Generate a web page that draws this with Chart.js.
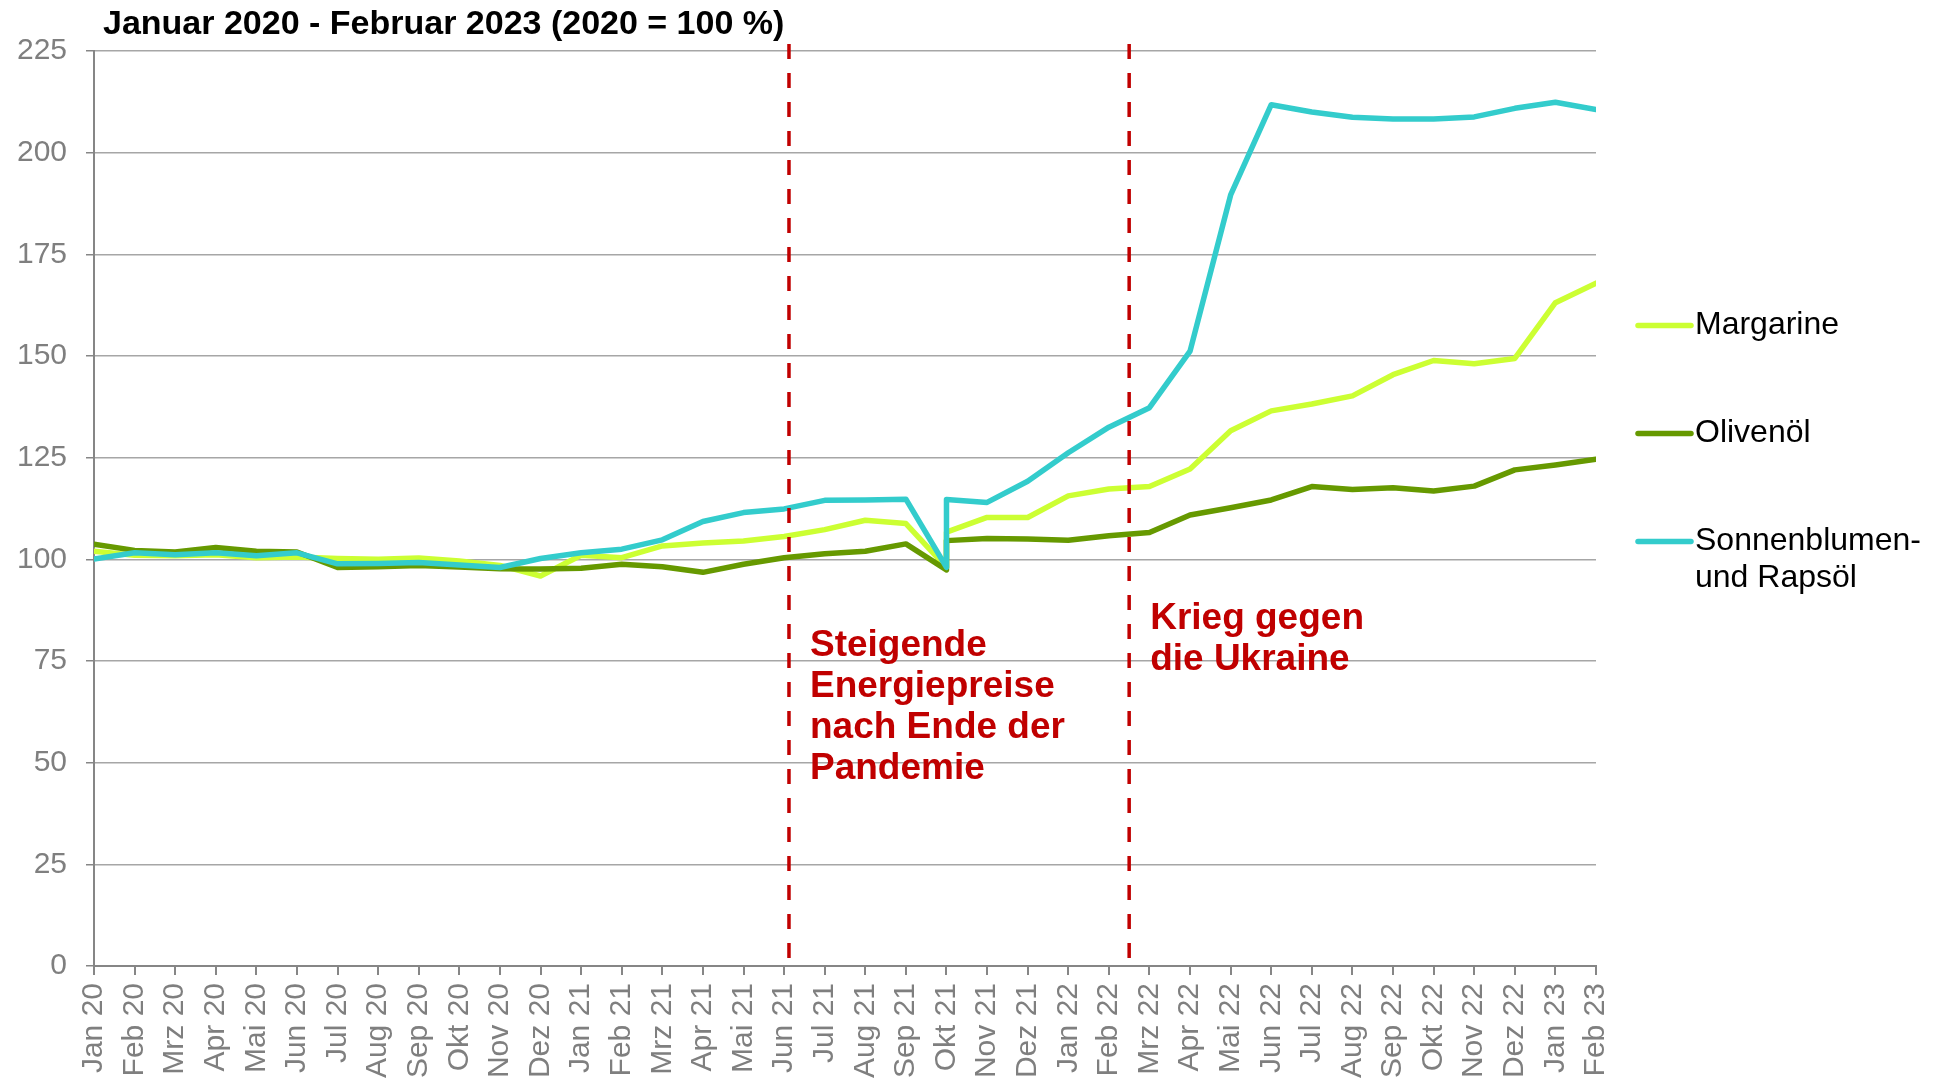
<!DOCTYPE html>
<html lang="de">
<head>
<meta charset="utf-8">
<title>Preisentwicklung Speisefette</title>
<script src="https://cdn.jsdelivr.net/npm/chart.js@4.4.1/dist/chart.umd.min.js"></script>
<style>
html,body{margin:0;padding:0;background:#fff;}
#wrap{width:1943px;height:1080px;}
</style>
</head>
<body>
<div id="wrap"><canvas id="chart" width="1943" height="1080"></canvas></div>
<script>
// Data (Index 2020 = 100)
const months = [
  'Jan 20','Feb 20','Mrz 20','Apr 20','Mai 20','Jun 20','Jul 20','Aug 20','Sep 20','Okt 20','Nov 20','Dez 20',
  'Jan 21','Feb 21','Mrz 21','Apr 21','Mai 21','Jun 21','Jul 21','Aug 21','Sep 21','Okt 21','Nov 21','Dez 21',
  'Jan 22','Feb 22','Mrz 22','Apr 22','Mai 22','Jun 22','Jul 22','Aug 22','Sep 22','Okt 22','Nov 22','Dez 22',
  'Jan 23','Feb 23'
];
const margarine = [
  102.0,101.0,100.9,101.1,100.4,100.6,100.2,100.0,100.3,99.6,98.5,95.9,
  101.0,100.4,103.3,104.0,104.5,105.6,107.3,109.6,108.8,106.7,110.3,110.3,
  115.6,117.3,117.9,122.2,131.6,136.5,138.2,140.2,145.4,148.9,148.1,149.4,
  163.1,167.9
];
const olivenoel = [
  103.7,102.2,101.8,102.9,102.0,101.8,98.0,98.2,98.5,98.1,97.7,97.6,
  97.8,98.8,98.2,96.8,98.8,100.4,101.4,102.0,103.8,104.6,105.1,105.0,
  104.7,105.8,106.6,110.9,112.7,114.6,117.9,117.2,117.6,116.8,118.0,122.0,
  123.2,124.6
];
const sonnenblumenRaps = [
  100.1,101.6,101.1,101.6,100.9,101.6,98.9,99.0,99.2,98.6,98.0,100.2,
  101.6,102.5,104.8,109.3,111.5,112.4,114.5,114.6,114.8,114.7,114.0,119.2,
  126.2,132.5,137.3,151.2,189.6,211.8,210.0,208.7,208.3,208.3,208.8,210.9,
  212.4,210.6
];
// Okt 21: series drop first, then jump back (drawn as a vertical step)
const breakMonth = 'Okt 21';
const breakLow = [98.0, 97.4, 98.0];

const seriesNames = ['Margarine', 'Olivenöl', 'Sonnenblumen-\nund Rapsöl'];
const seriesValues = [margarine, olivenoel, sonnenblumenRaps];
const seriesColors = ['#ccff33', '#669900', '#33cccc'];

const titleText = 'Januar 2020 - Februar 2023 (2020 = 100 %)';
const eventAt = [17.12, 25.5];
const eventText = [
  ['Steigende', 'Energiepreise', 'nach Ende der', 'Pandemie'],
  ['Krieg gegen', 'die Ukraine']
];
const eventTextY = [76.3, 82.9];

const FONT = "'Liberation Sans', Arial, sans-serif";
const GRAY = '#7f7f7f';
const RED = '#c00000';

function points(values, low){
  const b = months.indexOf(breakMonth), out = [];
  values.forEach((v,i)=>{
    if(i===b) out.push({x:i, y:low});
    out.push({x:i, y:v});
  });
  return out;
}

const overlay = {
  id:'overlay',
  afterDatasetsDraw(chart){
    const {ctx, chartArea:a, scales:{x, y}} = chart;
    ctx.save();
    // event lines
    ctx.strokeStyle = RED; ctx.lineWidth = 3.5; ctx.setLineDash([15,14]);
    eventAt.forEach(v=>{
      const px = x.getPixelForValue(v);
      ctx.beginPath(); ctx.moveTo(px, a.top-7); ctx.lineTo(px, a.bottom-3); ctx.stroke();
    });
    ctx.setLineDash([]);
    // event labels
    ctx.fillStyle = RED; ctx.font = `bold 37px ${FONT}`; ctx.textBaseline = 'alphabetic'; ctx.textAlign = 'left';
    eventText.forEach((lines,k)=>{
      const px = x.getPixelForValue(eventAt[k]) + 21, py = y.getPixelForValue(eventTextY[k]);
      lines.forEach((t,j)=>ctx.fillText(t, px, py + j*41));
    });
    ctx.restore();
  },
  afterDraw(chart){
    const {ctx} = chart;
    ctx.save();
    // title
    ctx.fillStyle = '#000'; ctx.font = `bold 34px ${FONT}`; ctx.textBaseline = 'alphabetic';
    ctx.fillText(titleText, 103, 34);
    // legend
    ctx.font = `32px ${FONT}`; ctx.textBaseline = 'middle'; ctx.lineCap = 'round'; ctx.lineWidth = 5.5;
    chart.data.datasets.forEach((ds,k)=>{
      const ly = 325.5 + k*108;
      ctx.strokeStyle = ds.borderColor;
      ctx.beginPath(); ctx.moveTo(1638, ly); ctx.lineTo(1691, ly); ctx.stroke();
      ctx.fillStyle = '#000';
      ds.label.split('\n').forEach((t,j)=>ctx.fillText(t, 1695, ly + j*37));
    });
    ctx.restore();
  }
};

new Chart(document.getElementById('chart'), {
  type:'line',
  data:{
    datasets: seriesNames.map((name,k)=>({
      label:name,
      data:points(seriesValues[k], breakLow[k]),
      borderColor:seriesColors[k],
      backgroundColor:seriesColors[k],
      borderWidth:5.5,
      pointRadius:0,
      tension:0,
      fill:false,
      borderCapStyle:'round',
      borderJoinStyle:'round',
      order:2-k
    }))
  },
  options:{
    responsive:false,
    animation:false,
    layout:{padding:{top:51, right:347, left:0, bottom:0}},
    plugins:{legend:{display:false}, tooltip:{enabled:false}, title:{display:false}},
    scales:{
      x:{
        type:'linear', min:0, max:months.length-1,
        afterFit(s){ s.height = 114; },
        ticks:{stepSize:1, autoSkip:false, maxTicksLimit:100, maxRotation:90, minRotation:90, padding:8,
               color:GRAY, font:{family:FONT, size:30}, callback:v=>months[v]},
        grid:{drawOnChartArea:false, tickLength:9, color:'#868686', lineWidth:2},
        border:{color:'#868686', width:2}
      },
      y:{
        min:0, max:225,
        afterFit(s){ s.width = 94; },
        ticks:{stepSize:25, padding:19, color:GRAY, font:{family:FONT, size:30}},
        grid:{color:'#a6a6a6', lineWidth:1.5, tickLength:8, tickColor:'#868686'},
        border:{color:'#868686', width:2}
      }
    }
  },
  plugins:[overlay]
});
</script>
</body>
</html>
